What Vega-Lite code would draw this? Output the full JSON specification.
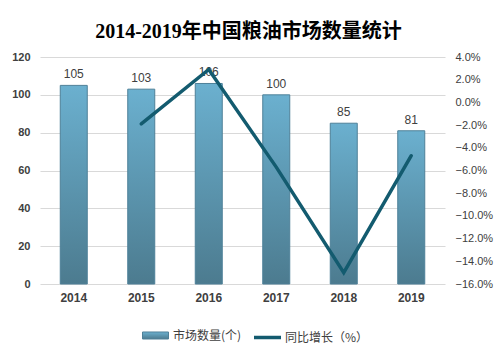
{
  "$schema": "https://vega.github.io/schema/vega-lite/v6.json",
  "width": 405,
  "height": 227,
  "autosize": {"type": "none"},
  "padding": {"left": 40, "top": 57, "right": 59, "bottom": 69},
  "background": "white",
  "title": {
    "text": "2014-2019年中国粮油市场数量统计",
    "font": "Liberation Serif, Noto Sans CJK SC",
    "fontSize": 20,
    "fontWeight": "bold",
    "color": "#000000",
    "anchor": "middle",
    "baseline": "alphabetic",
    "offset": 21,
    "dx": 6,
    "dy": 28
  },
  "data": {
    "values": [
      {"year": "2014", "count": 105, "growth": null},
      {"year": "2015", "count": 103, "growth": -0.019},
      {"year": "2016", "count": 106, "growth": 0.029},
      {"year": "2017", "count": 100, "growth": -0.057},
      {"year": "2018", "count": 85, "growth": -0.15},
      {"year": "2019", "count": 81, "growth": -0.047}
    ]
  },
  "encoding": {
    "x": {
      "field": "year",
      "type": "ordinal",
      "scale": {"paddingInner": 0.6, "paddingOuter": 0.3},
      "axis": {
        "title": null,
        "labelAngle": 0,
        "labelFont": "Liberation Sans",
        "labelFontSize": 12,
        "labelFontWeight": "bold",
        "labelColor": "#404040",
        "labelPadding": 8,
        "ticks": false,
        "domain": false,
        "grid": false
      }
    }
  },
  "layer": [
    {
      "encoding": {
        "y": {
          "field": "count",
          "type": "quantitative",
          "scale": {"domain": [0, 120]},
          "axis": {
            "title": null,
            "values": [0, 20, 40, 60, 80, 100, 120],
            "labelOverlap": false,
            "labelFont": "Liberation Sans",
            "labelFontSize": 11,
            "labelFontWeight": "bold",
            "labelColor": "#404040",
            "labelPadding": 10,
            "ticks": false,
            "domain": false,
            "grid": true,
            "gridColor": "#D9D9D9",
            "gridWidth": 1
          }
        }
      },
      "layer": [
        {
          "mark": {
            "type": "bar",
            "width": 27,
            "strokeWidth": 1,
            "fill": {
              "gradient": "linear",
              "x1": 0, "y1": 0, "x2": 0, "y2": 1,
              "stops": [
                {"offset": 0, "color": "#6BB0CF"},
                {"offset": 1, "color": "#4C7B8F"}
              ]
            }
          },
          "encoding": {
            "stroke": {
              "datum": "市场数量(个)",
              "type": "nominal",
              "scale": {"range": ["#4E8098"]},
              "legend": {
                "orient": "none",
                "legendX": 102,
                "legendY": 265,
                "title": null,
                "padding": 0,
                "symbolType": "M-1,-0.27H1V0.27H-1Z",
                "symbolSize": 676,
                "symbolFillColor": "#5E9AB4",
                "symbolStrokeWidth": 1,
                "labelFont": "Noto Sans CJK SC",
                "labelFontSize": 12,
                "labelColor": "#404040",
                "labelOffset": 4
              }
            }
          }
        },
        {
          "mark": {
            "type": "text",
            "dy": -11,
            "baseline": "middle",
            "font": "Liberation Sans",
            "fontSize": 12,
            "color": "#404040"
          },
          "encoding": {
            "text": {"field": "count", "type": "quantitative"}
          }
        }
      ]
    },
    {
      "mark": {"type": "line", "strokeWidth": 3.5, "strokeCap": "round"},
      "encoding": {
        "y": {
          "field": "growth",
          "type": "quantitative",
          "scale": {"domain": [-0.16, 0.04]},
          "axis": {
            "orient": "right",
            "title": null,
            "format": ".1%",
            "values": [-0.16, -0.14, -0.12, -0.1, -0.08, -0.06, -0.04, -0.02, 0, 0.02, 0.04],
            "labelOverlap": false,
            "labelFont": "Liberation Sans",
            "labelFontSize": 11,
            "labelColor": "#404040",
            "labelPadding": 10,
            "ticks": false,
            "domain": false,
            "grid": false
          }
        },
        "stroke": {
          "datum": "同比增长（%）",
          "type": "nominal",
          "scale": {"range": ["#135B6F"]},
          "legend": {
            "orient": "none",
            "legendX": 212,
            "legendY": 265,
            "title": null,
            "padding": 0,
            "symbolType": "stroke",
            "symbolSize": 729,
            "symbolStrokeWidth": 3.5,
            "labelFont": "Noto Sans CJK SC",
            "labelFontSize": 12,
            "labelColor": "#404040",
            "labelOffset": 2
          }
        }
      }
    }
  ],
  "resolve": {"scale": {"y": "independent", "stroke": "independent"}},
  "config": {"view": {"stroke": null}}
}
